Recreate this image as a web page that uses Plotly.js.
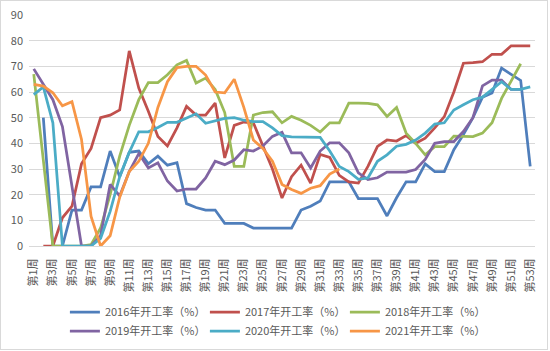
<!DOCTYPE html>
<html><head><meta charset="utf-8">
<script src="https://cdn.plot.ly/plotly-3.0.1.min.js"></script>
<style>
html,body{margin:0;padding:0;background:#fff}
#wrap{position:relative;width:550px;height:351px}
#chart{width:550px;height:351px}
#frame{position:absolute;left:0;top:0;width:548px;height:350px;box-sizing:border-box;border:1px solid #d9d9d9;pointer-events:none}
</style>
</head><body><div id="wrap"><div id="chart"></div><div id="frame"></div></div>
<script>
const weeks = ['第1周','第2周','第3周','第4周','第5周','第6周','第7周','第8周','第9周','第10周',
'第11周','第12周','第13周','第14周','第15周','第16周','第17周','第18周','第19周','第20周',
'第21周','第22周','第23周','第24周','第25周','第26周','第27周','第28周','第29周','第30周',
'第31周','第32周','第33周','第34周','第35周','第36周','第37周','第38周','第39周','第40周',
'第41周','第42周','第43周','第44周','第45周','第46周','第47周','第48周','第49周','第50周',
'第51周','第52周','第53周'];

const seriesNames = ['2016年开工率（%）','2017年开工率（%）','2018年开工率（%）',
                     '2019年开工率（%）','2020年开工率（%）','2021年开工率（%）'];

const y2016 = [null,50,0,0,14,14,23,23,37,27,
  36.5,37,32,35,31.5,32.5,16.5,15,14,14,
  8.8,8.8,8.8,7,7,7,7,7,14,15.5,
  17.5,25,25,25,18.5,18.5,18.5,11.7,18.8,25,
  25,32,29,29,37.5,43.4,50,58,59.6,69.3,
  67,64.5,31];

const y2017 = [null,0,0,11,15.5,32,38,50,51,53,
  76,61.5,52.5,42.7,39,46,54.4,51,51,55.7,
  34.3,47,48.3,48,39,30,18.7,27,31.5,24.5,
  35.7,34.5,27.5,25,24.5,31,38.8,41.3,40.9,43,
  40,42,46,50.4,60,71.2,71.4,71.8,74.7,74.7,
  78,78,78];

const y2018 = [67,34,0,0,0,0,0.5,7,20,35,
  47,57,63.7,63.7,66.7,70.6,72.3,63.5,65.4,61,
  52,31,31,51,52,52.3,48,50.5,49,47,
  44.4,48,48,55.7,55.7,55.6,55,50.5,54,44,
  40,35.5,38.7,38.7,42.8,42.6,42.6,44,48,57.5,
  64,71,null];

const y2019 = [69,63,57,46.5,23,0,0,4,24,19.5,
  29,36,30.4,32.4,25.3,21.4,22.2,22.2,26.5,33,
  31.7,33.5,37.5,37,39,42.7,44.3,36.3,36.3,30.4,
  37,40.2,40.2,36.3,28.5,25.9,26.6,28.8,28.8,28.8,
  29.8,33.7,40,40.7,40.7,44.6,50,62.4,64.6,64.6,
  61,61,null];

const y2020 = [59,62,48,0,0,0,0,3,13.5,27,
  36.5,44.5,44.5,46.2,48.2,48.2,50,51.5,47.8,48.8,
  49.7,50,49,48.5,48.5,46,43,42.5,42.5,42.5,
  42.3,37,31,29,26,26.5,33,35.5,38.9,39.6,
  41.3,44,47.5,48,53,55,57,58,61,64,
  61,61,62];

const y2021 = [63,62.3,59.7,54.6,56.2,41.5,11.5,0,4,19,
  29,33,40,54,64,69.5,70,70,66.6,60,
  59.7,65,54,41.3,38,33,24,22,20.5,22.5,
  23.5,28,30,null,null,null,null,null,null,null,
  null,null,null,null,null,null,null,null,null,null,
  null,null,null];

const colors = ['#4F7EBB','#C0504D','#9BBB59','#8064A2','#4BACC6','#F79646'];
const allY = [y2016,y2017,y2018,y2019,y2020,y2021];

const traces = allY.map((ys,i)=>({
  type:'scatter', mode:'lines', x:weeks, y:ys, name:seriesNames[i],
  line:{color:colors[i], width:2.75}, connectgaps:false
}));

const tickWeeks = weeks.filter((w,i)=>i%2===0);

const layout = {
  width:550, height:351,
  margin:{l:29, r:15, t:15, b:105, pad:0},
  paper_bgcolor:'#ffffff', plot_bgcolor:'#ffffff',
  font:{family:'"Noto Sans CJK SC", "Noto Sans", sans-serif', size:11, color:'#595959'},
  showlegend:true,
  xaxis:{type:'category', categoryorder:'array', categoryarray:weeks,
    range:[-0.5,52.5], tickmode:'array', tickvals:tickWeeks, ticktext:tickWeeks,
    tickangle:-90, showgrid:false, zeroline:false, showline:true, linecolor:'#d9d9d9',
    ticks:'', ticklabelstandoff:7, tickfont:{size:11,color:'#595959'}},
  yaxis:{range:[0,90], dtick:10, tick0:0, showgrid:true, gridcolor:'#d9d9d9', gridwidth:1,
    zeroline:false, showline:false, ticks:'', ticklabelstandoff:5,
    tickfont:{size:11,color:'#595959'}},
  legend:{orientation:'h', xref:'container', yref:'container', x:0.118, xanchor:'left',
    y:0.152, yanchor:'top', entrywidth:95, entrywidthmode:'pixels',
    font:{size:11,color:'#595959'}, bgcolor:'rgba(0,0,0,0)', traceorder:'normal'}
};

Plotly.newPlot('chart', traces, layout, {displayModeBar:false, staticPlot:true});
</script>
</body></html>
